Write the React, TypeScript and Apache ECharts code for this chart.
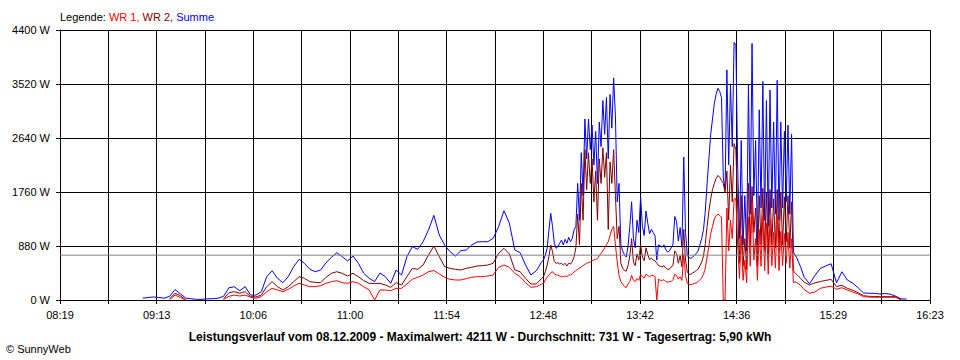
import React, { useEffect, useRef } from 'react';
import * as echarts from 'echarts';

// minutes after 08:19 ; axis spans 08:19 .. 16:23 (484 min)
const X_MAX = 484;
const STEP = X_MAX / 18;
const xLabels = ['08:19', '09:13', '10:06', '11:00', '11:54', '12:48', '13:42', '14:36', '15:29', '16:23'];
const yMax = 4400;
const yStep = 880;
const average = 731;

const legendText = ['Legende: ', 'WR 1, ', 'WR 2, ', 'Summe'];
const titleText = 'Leistungsverlauf vom 08.12.2009 - Maximalwert: 4211 W - Durchschnitt: 731 W - Tagesertrag: 5,90 kWh';
const copyright = '\u00A9 SunnyWeb';

// sample times (minutes after 08:19)
const times: number[] = [];
for (let t = 40; t <= 268; t += 3) times.push(t);
for (let t = 269; t <= 412; t += 1) times.push(t);
for (let t = 414; t <= 474; t += 3) times.push(t);

const N = null;

// Summe (blue)
const summe: (number | null)[] = [
  // 40..268 step 3
  N, N, 30, 40, 50, 40, 30, 60, 170, 100, 30, 20, 10, 10, 20, 20, 30, 60, 200, 215,
  152, 217, 80, 80, 135, 380, 477, 353, 282, 380, 543, 663, 598, 500, 461, 489, 608, 695, 771, 706,
  636, 717, 598, 435, 353, 300, 440, 380, 272, 489, 407, 706, 869, 826, 950, 1141, 1380, 1059, 896, 787,
  717, 804, 815, 896, 945, 950, 950, 1005, 1195, 1455, 1250, 815, 771, 570, 407, 477, 624,
  // 269..412 step 1
  652, 733, 842, 1141, 1412, 1195, 924, 842, 869, 924, 978, 896, 989, 924, 1022, 950, 1005, 1141, 1200, 1900,
  1300, 2400, 1700, 2950, 2300, 2950, 2450, 2850, 2200, 2750, 1900, 2900, 2500, 3250, 2700, 3300, 2300, 3350, 2800, 3620,
  3000, 1600, 1900, 900, 800, 740, 700, 880, 1200, 1600, 1000, 850, 1300, 1100, 1680, 1200, 1050, 1450, 1250, 1080,
  1150, 1100, 1050, 650, 900, 880, 860, 900, 820, 780, 800, 850, 900, 1360, 1280, 960, 1180, 860, 2330, 1100,
  720, 690, 680, 700, 730, 760, 800, 900, 1000, 1150, 1450, 1900, 2300, 2700, 2950, 3200, 3350, 3450, 3400, 3300,
  2000, 1800, 3750, 2200, 3500, 2500, 4200, 4150, 2200, 1000, 2600, 900, 1700, 800, 3500, 1400, 4180, 1700, 2600, 900,
  3100, 1500, 3560, 1300, 3250, 1200, 3420, 1500, 2900, 1400, 3580, 1300, 2900, 1500, 2750, 1600, 2850, 1400, 2700, 780,
  733, 680, 610, 540,
  // 414..474 step 3
  370, 265, 400, 515, 555, 590, 280, 460, 326, 275, 200, 115, 110, 108, 98, 105, 95, 60, 18, 15, N,
];

// WR 2 (dark red)
const wr2: (number | null)[] = [
  N, N, N, N, N, N, N, 20, 110, 70, 0, N, N, N, N, N, N, 20, 120, 135,
  110, 135, 55, 50, 80, 217, 298, 217, 163, 217, 298, 380, 353, 298, 288, 282, 370, 435, 461, 435,
  391, 435, 380, 315, 272, 270, 272, 244, 207, 282, 244, 380, 516, 500, 570, 733, 880, 706, 543, 516,
  500, 489, 516, 533, 554, 560, 570, 598, 761, 842, 750, 489, 461, 353, 261, 261, 353,
  380, 461, 570, 706, 896, 787, 624, 598, 608, 587, 598, 570, 598, 554, 598, 587, 624, 706, 850, 1400,
  900, 1900, 1300, 2450, 1800, 2400, 1900, 2300, 1600, 2100, 1300, 2300, 1900, 2480, 2000, 2400, 1150, 2250, 1900, 2450,
  1700, 1000, 1200, 600, 520, 480, 470, 560, 720, 1000, 620, 560, 750, 650, 900, 700, 640, 850, 740, 660,
  680, 650, 640, 600, 560, 550, 540, 560, 520, 500, 500, 540, 560, 800, 760, 600, 720, 540, 1150, 650,
  450, 420, 420, 440, 460, 480, 500, 560, 620, 720, 920, 1200, 1450, 1650, 1800, 1900, 1980, 2030, 2000, 1950,
  1900, 1750, 2100, 1300, 2200, 1600, 2550, 2450, 1500, 600, 1700, 550, 1000, 500, 1900, 900, 1850, 1100, 1500, 550,
  1700, 900, 1820, 800, 1750, 700, 1800, 900, 1650, 850, 1800, 800, 1750, 900, 1680, 950, 1700, 850, 1600, 480,
  435, 410, 380, 353,
  290, 245, 280, 300, 320, 335, 220, 240, 190, 160, 120, 70, 60, 58, 55, 55, 55, 54, 0, N, N,
];

// WR 1 (red)
const wr1: (number | null)[] = [
  N, N, N, N, N, N, N, 10, 80, 40, 0, N, N, N, N, N, N, 10, 60, 80,
  65, 80, 45, 28, 55, 135, 190, 163, 135, 174, 228, 272, 244, 217, 217, 233, 272, 298, 315, 282,
  272, 298, 272, 217, 163, 0, 163, 163, 152, 190, 190, 261, 337, 370, 407, 461, 480, 424, 370, 337,
  326, 326, 348, 370, 380, 380, 391, 407, 533, 570, 533, 435, 380, 282, 207, 217, 261,
  272, 326, 370, 407, 445, 461, 424, 407, 407, 391, 380, 380, 391, 380, 407, 407, 424, 461, 480, 500,
  520, 540, 560, 580, 600, 610, 620, 640, 650, 660, 680, 720, 760, 800, 850, 900, 950, 1050, 1150, 1200,
  900, 620, 400, 300, 260, 220, 200, 260, 300, 400, 320, 300, 350, 320, 420, 380, 360, 420, 400, 380,
  400, 400, 380, 0, 340, 320, 320, 330, 300, 290, 300, 300, 330, 420, 400, 340, 380, 320, 750, 400,
  270, 260, 250, 260, 270, 280, 300, 330, 360, 420, 520, 700, 880, 1080, 1200, 1320, 1370, 1400, 1380, 1350,
  0, 0, 1500, 800, 1300, 1000, 1650, 1650, 900, 350, 1050, 320, 650, 280, 1350, 550, 1600, 650, 1000, 320,
  1150, 550, 1380, 480, 1250, 420, 1320, 560, 1100, 520, 1380, 480, 1120, 560, 1080, 600, 1100, 520, 1000, 280,
  298, 280, 260, 240,
  170, 110, 130, 190, 210, 225, 175, 200, 163, 130, 100, 55, 48, 45, 44, 44, 44, 44, 0, N, N,
];

const FONT = '"Liberation Sans", Arial, sans-serif';

export default function App() {
  const ref = useRef<HTMLDivElement>(null);
  useEffect(() => {
    if (!ref.current) return;
    const chart = echarts.init(ref.current, null, { renderer: 'svg' });
    const pair = (arr: (number | null)[]) => times.map((t, i) => [t, arr[i] === null ? '-' : arr[i]]);
    const lineSeries = (name: string, arr: (number | null)[], color: string, z: number) => ({
      name,
      type: 'line',
      data: pair(arr),
      showSymbol: false,
      symbol: 'none',
      connectNulls: false,
      lineStyle: { color, width: 1 },
      itemStyle: { color },
      z,
      silent: true,
    });
    chart.setOption({
      animation: false,
      backgroundColor: '#ffffff',
      textStyle: { fontFamily: FONT },
      grid: { left: 60, top: 30, right: 30, bottom: 60, containLabel: false },
      xAxis: {
        type: 'value',
        min: 0,
        max: X_MAX,
        interval: STEP,
        axisLine: { show: true, lineStyle: { color: '#000', width: 1 } },
        axisTick: { show: true, length: 4, inside: false, lineStyle: { color: '#000' } },
        splitLine: { show: true, lineStyle: { color: '#000', width: 1 } },
        axisLabel: {
          show: true,
          interval: 0,
          margin: 9,
          color: '#000',
          fontSize: 11,
          fontFamily: FONT,
          showMinLabel: true,
          showMaxLabel: true,
          formatter: (v: number) => {
            const i = Math.round(v / STEP);
            return i % 2 === 0 ? xLabels[i / 2] ?? '' : '';
          },
        },
      },
      yAxis: {
        type: 'value',
        min: 0,
        max: yMax,
        interval: yStep,
        axisLine: { show: true, lineStyle: { color: '#000', width: 1 } },
        axisTick: { show: true, length: 4, inside: false, lineStyle: { color: '#000' } },
        splitLine: { show: true, lineStyle: { color: '#000', width: 1 } },
        axisLabel: {
          margin: 10,
          color: '#000',
          fontSize: 11,
          fontFamily: FONT,
          formatter: (v: number) => `${v} W`,
        },
      },
      series: [
        lineSeries('Summe', summe, '#0000ff', 2),
        lineSeries('WR 2', wr2, '#800000', 3),
        lineSeries('WR 1', wr1, '#ff0000', 4),
        {
          name: 'Durchschnitt',
          type: 'line',
          data: [[0, average], [X_MAX, average]],
          showSymbol: false,
          symbol: 'none',
          lineStyle: { color: '#808080', width: 1 },
          z: 6,
          silent: true,
        },
      ],
      graphic: [
        {
          type: 'text',
          x: 60,
          y: 17,
          style: {
            text: `{a|${legendText[0]}}{b|${legendText[1]}}{c|${legendText[2]}}{d|${legendText[3]}}`,
            font: `11px ${FONT}`,
            textVerticalAlign: 'middle',
            rich: {
              a: { fill: '#000000', font: `11px ${FONT}` },
              b: { fill: '#ff0000', font: `11px ${FONT}` },
              c: { fill: '#800000', font: `11px ${FONT}` },
              d: { fill: '#0000ff', font: `11px ${FONT}` },
            },
          },
        },
        {
          type: 'text',
          x: 480,
          y: 337,
          style: {
            text: titleText,
            fill: '#000',
            font: `bold 12px ${FONT}`,
            textAlign: 'center',
            textVerticalAlign: 'middle',
          },
        },
        {
          type: 'text',
          x: 6,
          y: 349,
          style: {
            text: copyright,
            fill: '#000',
            font: `11px ${FONT}`,
            textAlign: 'left',
            textVerticalAlign: 'middle',
          },
        },
      ],
    });
    return () => chart.dispose();
  }, []);
  return (
    <div
      ref={ref}
      style={{ position: 'absolute', left: 0, top: 0, width: 960, height: 360, background: '#fff' }}
    />
  );
}
